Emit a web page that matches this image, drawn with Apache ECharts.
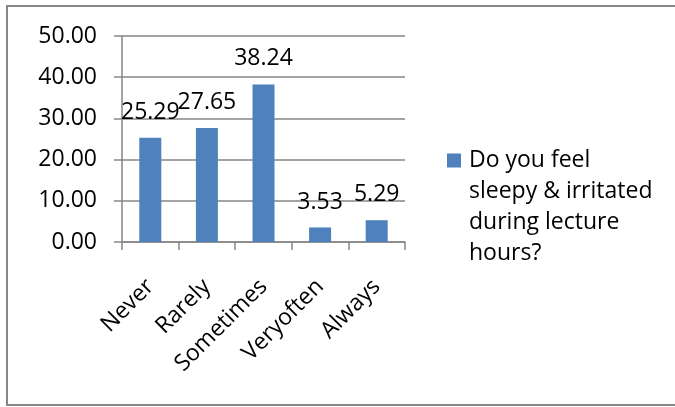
<!DOCTYPE html>
<html lang="en">
<head>
    <meta charset="UTF-8">
    <title>Sleepy chart</title>
    <script src="https://cdn.jsdelivr.net/npm/echarts@6/dist/echarts.min.js"></script>
</head>
<style>
    html, body{
        margin: 0;
        padding: 0;
        background-color: #fff;
    }
    .main{
        width: 675px;
        height: 407px;
    }
</style>
<body>
<div id="main" class="main"></div>
<script>
    var categories = ['Never', 'Rarely', 'Sometimes', 'Veryoften', 'Always'];
    var values = [25.29, 27.65, 38.24, 3.53, 5.29];
    var seriesName = 'Do you feel\nsleepy & irritated\nduring lecture\nhours?';
    var yTicks = {min: 0, max: 50, interval: 10};

    var gray = '#868686';
    var font = 'Open Sans';
    var fs = 23;
    var lh = 31;
    // square sits on the first text line; tiny segments stretch the box to 4 lines
    var legendIcon = 'path://M0,0L0.01,0Z M0,8.5L14,8.5L14,22.5L0,22.5Z M0,124L0.01,124Z';
    var app = echarts.init(document.getElementById('main'));

    option = {
        animation: false,
        grid: {
            left: 122,
            right: 270,
            top: 36,
            bottom: 165
        },
        graphic: [{
            type: 'rect',
            shape: {x: 7, y: 6, width: 700, height: 399},
            style: {fill: 'none', stroke: gray, lineWidth: 2},
            silent: true
        }],
        legend: {
            left: 447,
            top: 145,
            padding: 0,
            itemWidth: 14,
            itemHeight: 124,
            icon: legendIcon,
            selectedMode: false,
            data: [seriesName],
            textStyle: {
                fontFamily: font,
                fontSize: fs,
                color: '#000',
                lineHeight: lh,
                padding: [0, 0, 0, 3]
            }
        },
        xAxis: {
            type: 'category',
            data: categories,
            axisLine: {lineStyle: {color: gray, width: 1.5}},
            axisTick: {show: true, length: 8, lineStyle: {color: gray, width: 1.5}},
            axisLabel: {
                rotate: 45,
                margin: 41,
                color: '#000',
                fontFamily: font,
                fontSize: fs
            }
        },
        yAxis: {
            type: 'value',
            min: yTicks.min,
            max: yTicks.max,
            interval: yTicks.interval,
            axisLine: {show: true, lineStyle: {color: gray, width: 1.5}},
            axisTick: {show: true, length: 8, lineStyle: {color: gray, width: 1.5}},
            splitLine: {lineStyle: {color: gray, width: 1.5}},
            axisLabel: {
                margin: 25,
                color: '#000',
                fontFamily: font,
                fontSize: fs,
                formatter: function (v) {
                    return v.toFixed(2);
                }
            }
        },
        series: [{
            name: seriesName,
            type: 'bar',
            data: values,
            barWidth: 22,
            itemStyle: {color: '#4f81bd'},
            label: {
                show: true,
                position: 'top',
                distance: 14,
                color: '#000',
                fontFamily: font,
                fontSize: fs,
                formatter: function (p) {
                    return p.value.toFixed(2);
                }
            }
        }]
    };
    app.setOption(option);
</script>
</body>
</html>
